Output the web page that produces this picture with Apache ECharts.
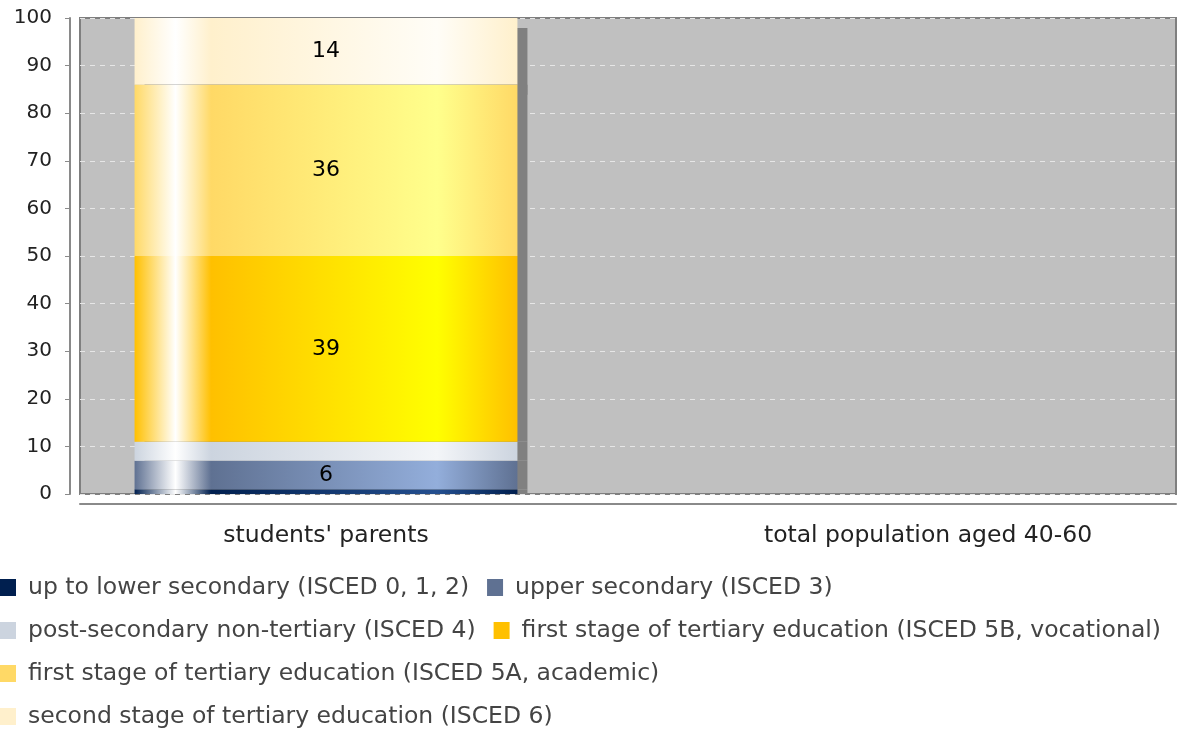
<!DOCTYPE html>
<html>
<head>
<meta charset="utf-8">
<script src="https://cdn.jsdelivr.net/npm/echarts@6/dist/echarts.min.js"></script>
<style>
html,body{margin:0;padding:0;background:#fff;}
#chart{width:1194px;height:733px;}
</style>
</head>
<body>
<div id="chart"></div>
<script>
const categories = ["students' parents", "total population aged 40-60"];
const seriesNames = [
  "up to lower secondary (ISCED 0, 1, 2)",
  "upper secondary (ISCED 3)",
  "post-secondary non-tertiary (ISCED 4)",
  "first stage of tertiary education (ISCED 5B, vocational)",
  "first stage of tertiary education (ISCED 5A, academic)",
  "second stage of tertiary education (ISCED 6)"
];
const lowerSecondary = [1, 0];
const upperSecondary = [6, 0];
const postSecondary = [4, 0];
const tertiary5B = [39, 0];
const tertiary5A = [36, 0];
const tertiary6 = [14, 0];
const seriesValues = [lowerSecondary, upperSecondary, postSecondary, tertiary5B, tertiary5A, tertiary6];
const yTicks = [0, 10, 20, 30, 40, 50, 60, 70, 80, 90, 100];

// [legend/base colour, light colour]
const palette = [
  ['#001f4f', '#244f8f'],
  ['#5f7192', '#93aedb'],
  ['#ccd4df', '#f3f5f8'],
  ['#ffc000', '#ffff00'],
  ['#ffd966', '#ffff8c'],
  ['#fff0cc', '#fffdf7']
];

function grad(base, light) {
  return new echarts.graphic.LinearGradient(0, 0, 1, 0, [
    {offset: 0, color: base},
    {offset: 0.107, color: '#ffffff'},
    {offset: 0.2, color: base},
    {offset: 0.79, color: light},
    {offset: 1, color: base}
  ]);
}

const FONT = 'DejaVu Sans';
const chart = echarts.init(document.getElementById('chart'), null, {renderer: 'canvas'});

const series = seriesNames.map((name, i) => ({
  name: name,
  type: 'bar',
  stack: 'total',
  xAxisIndex: 1,
  yAxisIndex: 1,
  barWidth: '63.6%',
  z: i === seriesNames.length - 1 ? 1 : 2,
  clip: false,
  data: seriesValues[i],
  itemStyle: {
    color: grad(palette[i][0], palette[i][1]),
    shadowColor: '#808080',
    shadowBlur: 0,
    shadowOffsetX: 10,
    shadowOffsetY: i === seriesNames.length - 1 ? 10 : 0
  },
  label: {
    show: true,
    position: 'inside',
    color: '#000',
    fontFamily: FONT,
    fontSize: 22,
    formatter: p => (p.value >= 5 ? String(p.value) : '')
  },
  emphasis: {disabled: true}
}));

chart.setOption({
  animation: false,
  backgroundColor: '#ffffff',
  grid: [
    {left: 80, right: 18, top: 18, bottom: 239, show: true, backgroundColor: '#c0c0c0', borderColor: '#7f7f7f', borderWidth: 2, outerBoundsMode: 'none', containLabel: false},
    {left: 25, width: 1204, top: 18, bottom: 239, outerBoundsMode: 'none', containLabel: false}
  ],
  legend: {
    left: 0, right: 0, top: 575,
    padding: 0,
    orient: 'horizontal',
    itemWidth: 16, itemHeight: 17,
    itemGap: 18,
    icon: 'rect',
    data: seriesNames.map((n, i) => ({name: n, itemStyle: {color: palette[i][0]}})),
    textStyle: {fontFamily: FONT, fontSize: 23.5, color: '#444', lineHeight: 25, padding: [0, 0, 0, 7]}
  },
  xAxis: [
    {
      type: 'category', gridIndex: 0, data: categories,
      offset: 10,
      axisLine: {show: true, onZero: false, lineStyle: {color: '#8a8a8a', width: 2}},
      axisTick: {show: false},
      axisLabel: {show: false},
      splitLine: {show: false}
    },
    {
      type: 'category', gridIndex: 1, data: categories,
      axisLine: {show: false, onZero: false},
      axisTick: {show: false},
      axisLabel: {show: true, margin: 30, fontFamily: FONT, fontSize: 23.5, color: '#222'},
      splitLine: {show: false}
    }
  ],
  yAxis: [
    {
      type: 'value', gridIndex: 0, min: 0, max: 100, interval: 10,
      offset: 10,
      axisLine: {show: true, lineStyle: {color: '#8a8a8a', width: 2}},
      axisTick: {show: true, length: 5, lineStyle: {color: '#8a8a8a'}},
      axisLabel: {margin: 18, fontFamily: FONT, fontSize: 20, color: '#222',
        formatter: v => (yTicks.indexOf(v) >= 0 ? String(v) : '')},
      splitLine: {show: true, lineStyle: {color: '#e6e6e6', type: [5, 5], width: 1}}
    },
    {
      type: 'value', gridIndex: 1, min: 0, max: 100, interval: 10, show: false,
      splitLine: {show: false}
    }
  ],
  series: series
});
</script>
</body>
</html>
